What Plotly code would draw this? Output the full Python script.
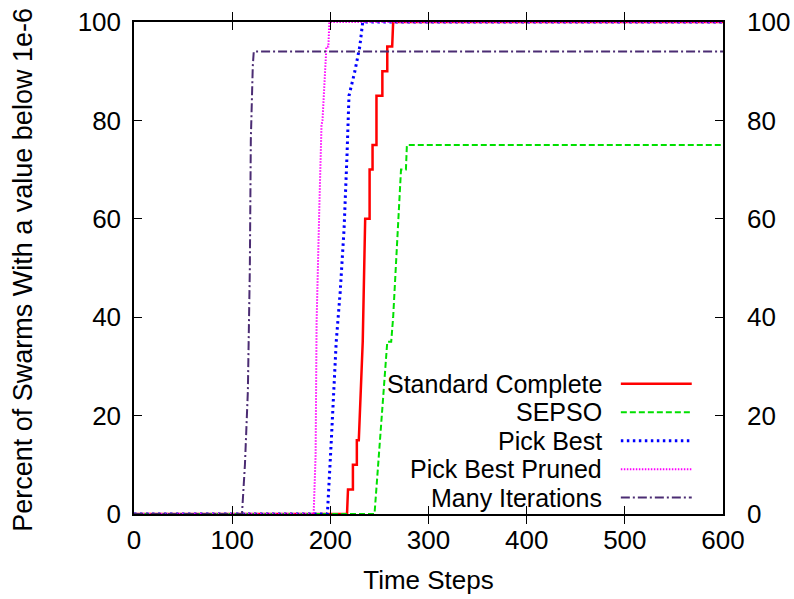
import plotly.graph_objects as go

# ---- data ----
std_x = [0, 217, 218, 223, 223, 227, 227, 229, 233, 235.5, 240, 240, 243, 243, 247, 247, 253, 253, 258, 258, 263, 264, 600]
std_y = [0, 0, 5, 5, 10, 10, 15, 15, 35, 60, 60, 70, 70, 75, 75, 85, 85, 90, 90, 95, 95, 100, 100]

sepso_x = [0, 245, 258, 262, 264, 271, 272, 277, 278, 600]
sepso_y = [0, 0, 35, 35, 40, 65, 70, 70, 75, 75]

pb_x = [0, 197, 201, 206, 210, 214, 217, 219, 225, 230, 233, 600]
pb_y = [0, 0, 15, 35, 45, 58, 73, 85, 90, 95, 100, 100]

pbp_x = [0, 183, 185, 186, 189, 191, 192, 196, 198, 199, 600]
pbp_y = [0, 0, 12, 39, 64, 79, 80, 95, 95, 100, 100]

mi_x = [0, 110, 113, 116, 118, 119, 121, 122, 600]
mi_y = [0, 0, 10, 25, 50, 76, 91, 94, 94]

series_names = ["Standard Complete", "SEPSO", "Pick Best", "Pick Best Pruned", "Many Iterations"]
x_ticks = [0, 100, 200, 300, 400, 500, 600]
y_ticks = [0, 20, 40, 60, 80, 100]

colors = ["#ff0000", "#00e000", "#0000ff", "#ff00ff", "#4b2c73"]
dashes = ["solid", "6px,3px", "2.5px,3.5px", "1.5px,1.5px", "9px,3px,2px,3px"]
widths = [2.5, 2, 3, 2, 2]

FONT = "Liberation Sans, Arial, sans-serif"
FS = 26
LEG_FS = 25

fig = go.Figure()
data = [(std_x, std_y), (sepso_x, sepso_y), (pb_x, pb_y), (pbp_x, pbp_y), (mi_x, mi_y)]
for (xs, ys), name, c, d, w in zip(data, series_names, colors, dashes, widths):
    fig.add_trace(go.Scatter(x=xs, y=ys, mode="lines", name=name,
                             line=dict(color=c, dash=d, width=w), showlegend=False))

# invisible trace to carry the right-hand axis
fig.add_trace(go.Scatter(x=[0, 600], y=[0, 100], yaxis="y2", mode="lines",
                         line=dict(width=0, color="rgba(0,0,0,0)"), showlegend=False,
                         hoverinfo="skip"))

L, R, T, B = 133.5, 723.3, 21.7, 514.0
W, H = 794, 599

def px2paper(px, py):
    return (px - L) / (R - L), (B - py) / (B - T)

# custom legend: text right-aligned, sample to the right
rows_py = [383.6, 412.1, 440.6, 469.1, 497.6]
shapes = []
annotations = []
for name, c, d, w, py in zip(series_names, colors, dashes, widths, rows_py):
    tx, ty = px2paper(603, py)
    annotations.append(dict(x=tx, y=ty, xref="paper", yref="paper", text=name,
                            showarrow=False, xanchor="right", yanchor="middle", borderpad=0,
                            font=dict(family=FONT, size=LEG_FS, color="black")))
    x0, _ = px2paper(621, py)
    x1, _ = px2paper(692, py)
    shapes.append(dict(type="line", xref="paper", yref="paper", x0=x0, x1=x1, y0=ty, y1=ty,
                       line=dict(color=c, dash=d, width=w)))

# y-axis title as rotated annotation
tx, ty = px2paper(22, 270)
annotations.append(dict(x=tx, y=ty, xref="paper", yref="paper",
                        text="Percent of Swarms With a value below 1e-6",
                        textangle=-90, showarrow=False, xanchor="center", yanchor="middle",
                        font=dict(family=FONT, size=27, color="black")))

axis_common = dict(showline=True, linecolor="black", linewidth=1.5, mirror="allticks",
                   ticks="inside", ticklen=8, tickwidth=1, tickcolor="black",
                   showgrid=False, zeroline=False, automargin=False,
                   tickfont=dict(family=FONT, size=FS, color="black"))

fig.update_layout(
    width=W, height=H,
    margin=dict(l=L, r=W - R, t=T, b=H - B, pad=0),
    paper_bgcolor="white", plot_bgcolor="white",
    font=dict(family=FONT, size=FS, color="black"),
    xaxis=dict(range=[0, 600], tickvals=x_ticks, ticklabelstandoff=2,
               title=dict(text="Time Steps", font=dict(family=FONT, size=FS), standoff=17),
               **axis_common),
    yaxis=dict(range=[0, 100], tickvals=y_ticks, ticklabelstandoff=6,
               **axis_common),
    yaxis2=dict(range=[0, 100], tickvals=y_ticks, overlaying="y", side="right",
                showline=False, ticks="", showgrid=False, zeroline=False,
                ticklabelstandoff=23, automargin=False,
                tickfont=dict(family=FONT, size=FS, color="black")),
    shapes=shapes, annotations=annotations,
)

fig.write_html("out.html")
